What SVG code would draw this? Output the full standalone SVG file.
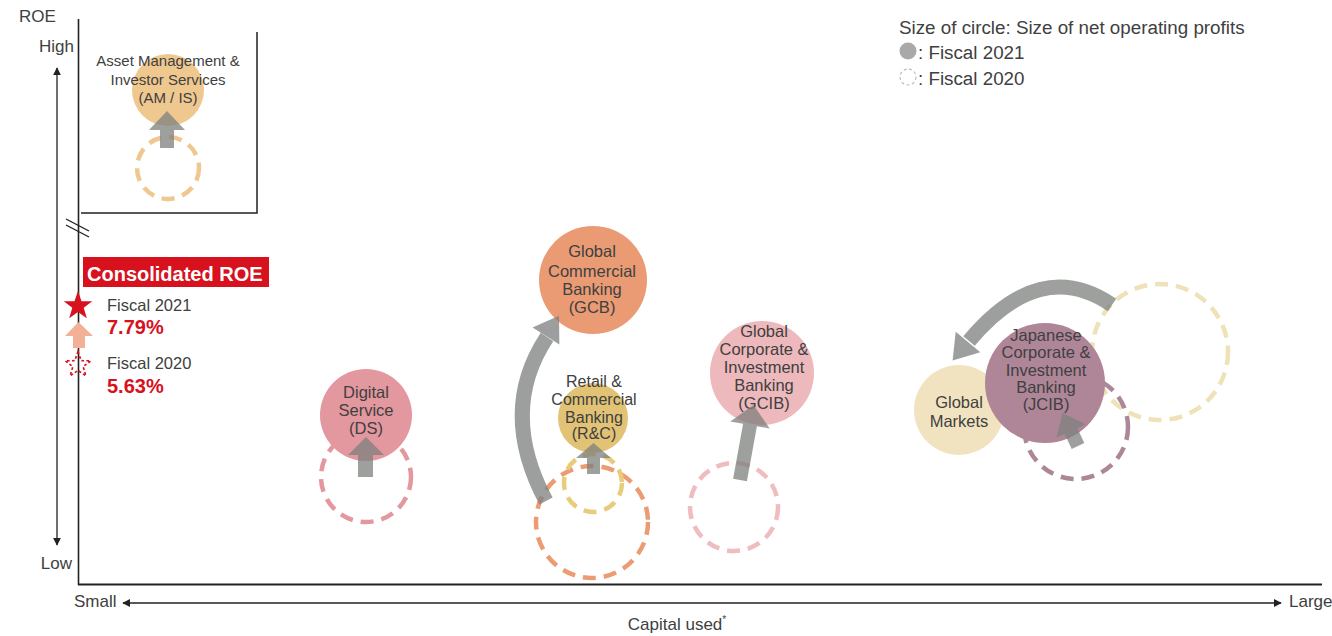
<svg xmlns="http://www.w3.org/2000/svg" width="1332" height="636" viewBox="0 0 1332 636">
  <style>
    text { font-family: "Liberation Sans", Arial, sans-serif; fill: #404040; }
    .lbl { font-size: 16.5px; text-anchor: middle; }
    .lbl-s { font-size: 15px; text-anchor: middle; }
    .lbl-m { font-size: 16px; text-anchor: middle; }
    .axis-t { font-size: 17px; }
    .leg { font-size: 18.8px; }
    .fy { font-size: 16.5px; }
    .pct { font-size: 20px; font-weight: bold; fill: #d7111e; }
    .prev { fill: none; stroke-width: 4.5; stroke-dasharray: 13 8; }
    .arrow { fill: #7d807e; }
    .arc { fill: none; stroke: #7d807e; stroke-width: 15; }
    .ax { stroke: #222; fill: none; }
  </style>
  <defs>
    <marker id="tip" viewBox="0 0 10 10" refX="9" refY="5" markerWidth="8" markerHeight="8" markerUnits="userSpaceOnUse" orient="auto-start-reverse">
      <path d="M0,0 L10,5 L0,10 Z" fill="#222"/>
    </marker>
    <polygon id="star" points="0,-15 3.53,-4.85 14.27,-4.64 5.71,1.85 8.82,12.14 0,6 -8.82,12.14 -5.71,1.85 -14.27,-4.64 -3.53,-4.85"/>
  </defs>

  <rect width="1332" height="636" fill="#ffffff"/>

  <!-- axes -->
  <g id="axes">
    <line class="ax" x1="78.5" y1="19" x2="78.5" y2="585" stroke-width="1.6"/>
    <line class="ax" x1="78" y1="584.5" x2="1322" y2="584.5" stroke-width="2"/>
    <polyline class="ax" points="257,32 257,213 81,213" stroke-width="1.5" stroke="#333"/>
    <line class="ax" x1="66" y1="219" x2="89" y2="231" stroke-width="1.4"/>
    <line class="ax" x1="66" y1="225" x2="89" y2="237" stroke-width="1.4"/>
    <line class="ax" x1="57" y1="68" x2="57" y2="545" stroke-width="1.3" marker-start="url(#tip)" marker-end="url(#tip)"/>
    <line class="ax" x1="123" y1="603" x2="1281" y2="603" stroke-width="1.3" marker-start="url(#tip)" marker-end="url(#tip)"/>
    <text class="axis-t" x="19" y="22">ROE</text>
    <text class="axis-t" x="74" y="52" text-anchor="end">High</text>
    <text class="axis-t" x="72" y="569" text-anchor="end">Low</text>
    <text class="axis-t" x="74" y="607">Small</text>
    <text class="axis-t" x="1289" y="607">Large</text>
    <text class="axis-t" x="677" y="630" text-anchor="middle" font-size="17.5">Capital used<tspan font-size="10" dy="-7">*</tspan></text>
  </g>

  <!-- legend -->
  <g id="legend">
    <text class="leg" x="899" y="34">Size of circle: Size of net operating profits</text>
    <circle cx="908" cy="51" r="8.5" fill="#a9a9a9"/>
    <text class="leg" x="918" y="59">: Fiscal 2021</text>
    <circle cx="908" cy="77" r="8" fill="none" stroke="#bcbcbc" stroke-width="1.2" stroke-dasharray="3 2.5"/>
    <text class="leg" x="918" y="85">: Fiscal 2020</text>
  </g>

  <!-- consolidated ROE -->
  <g id="consolidated-roe">
    <rect x="83" y="257" width="186" height="30" fill="#d7111e"/>
    <text x="87" y="281" font-size="20" font-weight="bold" style="fill:#ffffff">Consolidated ROE</text>
    <use href="#star" transform="translate(78,306)" fill="#d7111e"/>
    <polygon points="73,348 85,348 85,336 93,336 78.5,322 65,336 73,336" fill="#f2b197"/>
    <use href="#star" transform="translate(78,365) scale(0.9)" fill="none" stroke="#d7111e" stroke-width="1.8" stroke-dasharray="3 2.5"/>
    <text class="fy" x="107" y="311">Fiscal 2021</text>
    <text class="pct" x="107" y="334">7.79%</text>
    <text class="fy" x="107" y="369">Fiscal 2020</text>
    <text class="pct" x="107" y="393">5.63%</text>
  </g>

  <!-- Asset Management & Investor Services -->
  <g id="amis">
    <circle class="prev" cx="168" cy="168" r="31" stroke="#efc88f"/>
    <circle cx="168" cy="90" r="36" fill="#efc88f"/>
    <text class="lbl-s" x="168" y="66">Asset Management &amp;</text>
    <text class="lbl-s" x="168" y="85">Investor Services</text>
    <text class="lbl-s" x="168" y="103">(AM / IS)</text>
  </g>

  <!-- Digital Service -->
  <g id="ds">
    <circle class="prev" cx="366" cy="477" r="45" stroke="#e3979f"/>
    <circle cx="366" cy="415" r="46" fill="#e3979f"/>
    <text class="lbl" x="366" y="398">Digital</text>
    <text class="lbl" x="366" y="416">Service</text>
    <text class="lbl" x="366" y="434">(DS)</text>
  </g>

  <!-- Global Commercial Banking -->
  <g id="gcb">
    <circle class="prev" cx="592" cy="522" r="56" stroke="#eb9c72"/>
    <circle cx="593" cy="280" r="54" fill="#ea9b74"/>
    <text class="lbl" x="592" y="257">Global</text>
    <text class="lbl" x="592" y="277">Commercial</text>
    <text class="lbl" x="592" y="295">Banking</text>
    <text class="lbl" x="592" y="313">(GCB)</text>
  </g>

  <!-- Retail & Commercial Banking -->
  <g id="rc">
    <circle class="prev" cx="593" cy="483" r="29" stroke="#e8cc7c"/>
    <circle cx="593" cy="418" r="35" fill="#e2c274"/>
    <text class="lbl-m" x="594" y="387">Retail &amp;</text>
    <text class="lbl-m" x="594" y="405">Commercial</text>
    <text class="lbl-m" x="594" y="423">Banking</text>
    <text class="lbl-m" x="594" y="439">(R&amp;C)</text>
  </g>

  <!-- Global Corporate & Investment Banking -->
  <g id="gcib">
    <circle class="prev" cx="734" cy="507" r="44" stroke="#efbcc0"/>
    <circle cx="762" cy="373" r="52" fill="#edb9bd"/>
    <text class="lbl" x="764" y="337">Global</text>
    <text class="lbl" x="764" y="355">Corporate &amp;</text>
    <text class="lbl" x="764" y="373">Investment</text>
    <text class="lbl" x="764" y="391">Banking</text>
    <text class="lbl" x="764" y="409">(GCIB)</text>
  </g>

  <!-- Global Markets -->
  <g id="gm">
    <circle class="prev" cx="1160" cy="352" r="68" stroke="#efe2b8"/>
    <circle cx="959" cy="410" r="45" fill="#f2e3c0"/>
    <text class="lbl" x="959" y="408">Global</text>
    <text class="lbl" x="959" y="427">Markets</text>
  </g>

  <!-- Japanese Corporate & Investment Banking -->
  <g id="jcib">
    <circle class="prev" cx="1076" cy="427" r="52" stroke="#ad8698"/>
    <circle cx="1045" cy="383" r="60" fill="#af8698"/>
    <text class="lbl" x="1046" y="341">Japanese</text>
    <text class="lbl" x="1046" y="358">Corporate &amp;</text>
    <text class="lbl" x="1046" y="376">Investment</text>
    <text class="lbl" x="1046" y="393">Banking</text>
    <text class="lbl" x="1046" y="410">(JCIB)</text>
  </g>

  <!-- shifts from fiscal 2020 to fiscal 2021 -->
  <g id="connectors">
    <g opacity="0.75">
      <polygon class="arrow" points="160,148 174,148 174,130 185,130 167,111 149,130 160,130"/>
    </g>
    <g opacity="0.75">
      <polygon class="arrow" points="358,477 373,477 373,455 384,455 366,437 348,455 358,455"/>
    </g>
    <g opacity="0.75">
      <polygon class="arrow" points="587,474 600,474 600,458 611,458 593.5,443 576,458 587,458"/>
    </g>
    <g opacity="0.75">
      <polygon class="arrow" points="733.1,478.8 746.9,481.2 756.9,426.2 769.7,428.5 753.5,405 730.3,421.5 743.1,423.8"/>
    </g>
    <g opacity="0.75">
      <polygon class="arrow" points="1071.7,449 1084.3,443 1077.3,428 1085.5,424.2 1062.5,412.9 1056.5,437.8 1064.7,434"/>
    </g>
    <g opacity="0.75">
      <path class="arc" d="M546,501 Q498,411 547,337"/>
      <polygon class="arrow" points="532.6,327.4 559,315.8 559.4,344.6"/>
    </g>
    <g opacity="0.75">
      <path class="arc" d="M1112,305 Q1040,256 969,341"/>
      <polygon class="arrow" points="980.3,352.2 952.6,360.5 955.7,331.8"/>
    </g>
  </g>
</svg>
